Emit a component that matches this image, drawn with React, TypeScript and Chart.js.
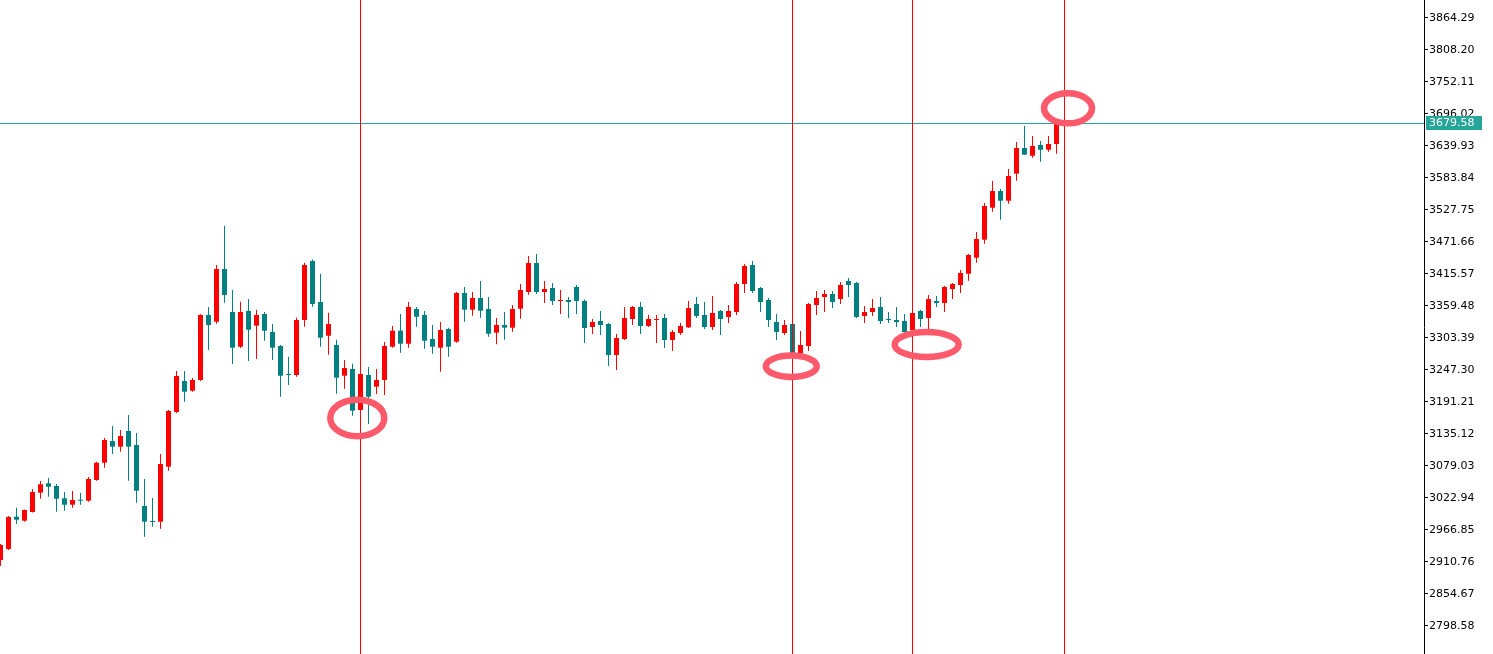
import React, { useEffect, useRef } from "react";
import { Chart, registerables } from "chart.js";

Chart.register(...registerables);

const opens = [
  2914.3, 2933.5, 2990.2, 2983.2, 2998.4, 3032.2, 3048.7, 3044.0, 3022.4, 3011.2,
  3020.0, 3018.2, 3054.5, 3084.8, 3122.8, 3112.9, 3140.4, 3115.8, 3008.9, 2982.6,
  2981.4, 3077.8, 3173.7, 3228.0, 3211.0, 3229.8, 3343.7, 3332.0, 3424.3, 3349.0,
  3288.1, 3350.7, 3325.0, 3345.5, 3313.9, 3289.4, 3240.3, 3238.5, 3334.9, 3438.4,
  3366.5, 3307.4, 3291.1, 3237.3, 3249.0, 3177.2, 3238.5, 3218.0, 3229.8, 3288.1,
  3316.2, 3293.4, 3354.2, 3343.7, 3301.6, 3286.4, 3319.2, 3296.9, 3382.3, 3353.0,
  3373.5, 3354.2, 3312.7, 3326.2, 3321.5, 3354.7, 3384.0, 3434.8, 3384.0, 3391.0,
  3368.2, 3370.0, 3392.8, 3368.2, 3322.7, 3333.2, 3327.9, 3273.6, 3301.6, 3336.7,
  3357.7, 3324.4, 3334.9, 3338.4, 3299.9, 3312.2, 3322.1, 3363.0, 3343.7, 3322.7,
  3350.7, 3340.2, 3349.0, 3398.0, 3431.4, 3391.0, 3370.0, 3331.4, 3312.2, 3327.9,
  3277.1, 3289.4, 3361.2, 3375.3, 3380.5, 3371.7, 3403.3, 3399.8, 3341.9, 3349.0,
  3357.7, 3336.7, 3334.9, 3333.2, 3317.4, 3350.7, 3338.4, 3368.2, 3364.7, 3389.3,
  3396.3, 3416.1, 3444.1, 3475.7, 3531.8, 3561.0, 3544.0, 3591.4, 3636.4, 3622.9,
  3641.7, 3633.4, 3643.4,
];
const highs = [
  2942.4, 2991.4, 3005.9, 3003.0, 3038.7, 3052.7, 3058.0, 3047.5, 3033.5, 3035.2,
  3031.7, 3059.7, 3086.6, 3128.1, 3149.1, 3142.1, 3168.4, 3136.9, 3056.2, 3022.9,
  3100.1, 3177.2, 3245.5, 3245.5, 3233.3, 3345.0, 3357.7, 3431.4, 3500.2, 3387.5,
  3367.0, 3371.7, 3353.0, 3349.0, 3327.9, 3291.1, 3270.6, 3339.0, 3435.4, 3441.0,
  3416.1, 3347.7, 3300.4, 3264.8, 3258.3, 3250.8, 3252.5, 3249.0, 3296.4, 3324.4,
  3345.5, 3366.5, 3357.7, 3350.7, 3326.2, 3331.4, 3321.5, 3384.0, 3392.8, 3384.0,
  3403.3, 3375.3, 3338.4, 3349.0, 3361.2, 3398.0, 3447.1, 3450.6, 3403.3, 3399.8,
  3387.5, 3375.3, 3396.3, 3371.0, 3336.7, 3350.7, 3329.7, 3310.4, 3357.7, 3359.5,
  3366.5, 3343.7, 3343.7, 3345.5, 3317.4, 3329.7, 3368.2, 3375.3, 3366.5, 3377.0,
  3352.5, 3361.2, 3401.6, 3433.1, 3438.4, 3392.8, 3373.5, 3345.5, 3334.9, 3334.9,
  3315.7, 3364.7, 3385.8, 3387.5, 3385.8, 3401.6, 3408.6, 3401.6, 3359.5, 3371.7,
  3375.3, 3349.0, 3357.7, 3345.5, 3354.2, 3352.5, 3378.8, 3377.0, 3394.5, 3399.8,
  3422.6, 3450.6, 3489.2, 3540.0, 3578.6, 3564.6, 3599.6, 3646.9, 3675.0, 3657.5,
  3648.7, 3657.5, 3684.0,
];
const lows = [
  2903.8, 2931.8, 2977.4, 2981.4, 2997.5, 3021.7, 3025.2, 2998.9, 3000.7, 3005.9,
  3011.2, 3016.5, 3053.3, 3076.1, 3100.1, 3104.1, 3053.3, 3014.7, 2955.1, 2972.6,
  2969.1, 3070.8, 3171.9, 3191.7, 3209.3, 3228.0, 3282.4, 3328.5, 3365.3, 3257.8,
  3285.9, 3263.1, 3266.6, 3298.7, 3264.8, 3200.4, 3221.0, 3235.5, 3323.2, 3358.3,
  3288.1, 3274.1, 3205.8, 3214.5, 3167.2, 3166.6, 3152.6, 3205.2, 3203.5, 3286.4,
  3277.6, 3286.4, 3323.2, 3284.6, 3275.9, 3244.3, 3270.6, 3295.2, 3332.0, 3342.5,
  3339.0, 3305.7, 3292.3, 3300.4, 3314.4, 3337.2, 3379.3, 3380.5, 3364.7, 3361.2,
  3345.5, 3338.4, 3345.5, 3294.6, 3310.4, 3308.6, 3254.3, 3247.3, 3299.9, 3326.2,
  3310.4, 3322.7, 3294.6, 3285.9, 3280.6, 3308.6, 3320.9, 3338.4, 3319.2, 3317.4,
  3308.6, 3329.7, 3343.7, 3382.3, 3382.3, 3349.0, 3322.7, 3299.9, 3308.6, 3270.1,
  3270.1, 3280.6, 3343.7, 3349.0, 3356.0, 3363.0, 3375.3, 3338.4, 3329.7, 3341.9,
  3327.9, 3329.7, 3322.7, 3312.2, 3310.4, 3322.7, 3317.4, 3357.7, 3349.0, 3371.7,
  3382.3, 3403.8, 3435.4, 3468.7, 3524.8, 3510.7, 3538.8, 3579.1, 3624.2, 3619.4,
  3612.4, 3629.9, 3626.4,
];
const closes = [
  2940.6, 2989.6, 2984.9, 3001.9, 3033.5, 3047.0, 3042.7, 3021.7, 3011.2, 3019.4,
  3018.2, 3056.2, 3084.8, 3124.6, 3112.9, 3131.6, 3112.9, 3035.7, 2981.4, 2980.9,
  3082.5, 3175.4, 3236.8, 3209.3, 3229.8, 3343.7, 3326.2, 3424.3, 3378.8, 3286.4,
  3349.0, 3317.9, 3343.7, 3316.2, 3286.4, 3237.3, 3238.5, 3334.9, 3431.4, 3363.0,
  3303.9, 3327.9, 3233.8, 3250.8, 3176.0, 3240.3, 3200.4, 3229.8, 3289.4, 3316.2,
  3293.4, 3357.7, 3340.7, 3298.7, 3288.1, 3317.4, 3288.1, 3382.3, 3353.0, 3373.5,
  3351.2, 3310.9, 3326.2, 3321.5, 3354.2, 3387.5, 3434.8, 3384.0, 3389.3, 3368.2,
  3370.0, 3366.5, 3368.2, 3320.9, 3331.4, 3326.2, 3273.6, 3303.4, 3338.4, 3357.7,
  3324.4, 3336.7, 3336.7, 3299.9, 3313.9, 3324.4, 3356.0, 3341.9, 3322.7, 3347.2,
  3336.7, 3350.7, 3398.0, 3429.6, 3385.8, 3366.5, 3334.9, 3313.9, 3326.2, 3277.1,
  3291.1, 3363.0, 3373.5, 3380.5, 3366.5, 3396.3, 3396.3, 3340.2, 3349.0, 3356.0,
  3333.2, 3334.9, 3331.4, 3313.9, 3347.2, 3336.7, 3371.7, 3364.7, 3392.8, 3398.0,
  3417.3, 3448.9, 3476.9, 3534.8, 3561.0, 3544.0, 3587.3, 3636.4, 3624.7, 3639.9,
  3633.4, 3643.4, 3679.58,
];

const priceTicks = [
  2798.58, 2854.67, 2910.76, 2966.85, 3022.94, 3079.03, 3135.12, 3191.21, 3247.3,
  3303.39, 3359.48, 3415.57, 3471.66, 3527.75, 3583.84, 3639.93, 3696.02, 3752.11,
  3808.2, 3864.29,
];

const currentPrice = 3679.58;
const markerBars = [45, 99, 114, 133];
// ring annotations: bar index, price
const ringIdx = [44.6, 98.85, 115.77, 133.44];
const ringPrice = [3163.2, 3253.8, 3292.0, 3706.0];
const ringRx = [27, 25.5, 32, 24];
const ringRy = [18.3, 10.7, 12.5, 15];

const UP = "#ff0000";
const DOWN = "#008080";
const PRICE_COL = "#26a69a";
const RING_COL = "#ff5a6b";

export default function App() {
  const ref = useRef<HTMLCanvasElement | null>(null);

  useEffect(() => {
    if (!ref.current) return;
    Chart.defaults.font.family = "'DejaVu Sans', sans-serif";
    const idx = opens.map((_, i) => i);
    const colors = idx.map((i) => (closes[i] > opens[i] ? UP : DOWN));

    const overlay = {
      id: "overlay",
      afterDatasetsDraw(chart: any) {
        const { ctx, chartArea, scales } = chart;
        const xs = scales.x;
        const ys = scales.y;
        ctx.save();
        const py = ys.getPixelForValue(currentPrice);
        ctx.fillStyle = PRICE_COL;
        ctx.fillRect(chartArea.left, Math.floor(py), chartArea.right - chartArea.left, 1);
        ctx.fillStyle = "#ff0000";
        markerBars.forEach((b) => {
          const px = xs.getPixelForValue(b);
          ctx.fillRect(Math.floor(px), chartArea.top, 1, chartArea.bottom - chartArea.top);
        });
        ctx.restore();
      },
      afterDraw(chart: any) {
        const { ctx, chartArea, scales } = chart;
        const xs = scales.x;
        const ys = scales.y;
        ctx.save();
        ctx.strokeStyle = RING_COL;
        ctx.lineWidth = 6.5;
        ringIdx.forEach((r, i) => {
          const cx = xs.getPixelForValue(r);
          const cy = ys.getPixelForValue(ringPrice[i]);
          ctx.beginPath();
          ctx.ellipse(cx, cy, ringRx[i], ringRy[i], 0, 0, Math.PI * 2);
          ctx.stroke();
        });
        const py = ys.getPixelForValue(currentPrice);
        const bx = chartArea.right + 2;
        ctx.fillStyle = PRICE_COL;
        ctx.fillRect(bx, Math.round(py) - 7, 56, 14);
        ctx.fillStyle = "#ffffff";
        ctx.font = "11px 'DejaVu Sans', sans-serif";
        ctx.textBaseline = "middle";
        ctx.textAlign = "left";
        ctx.fillText(currentPrice.toFixed(2), bx + 3, Math.round(py) + 0.5);
        ctx.restore();
      },
    };

    const chart = new Chart(ref.current, {
      type: "bar",
      data: {
        datasets: [
          {
            label: "wick",
            data: idx.map((i) => ({ x: i, y: [lows[i], highs[i]] })) as any,
            backgroundColor: colors,
            borderWidth: 0,
            grouped: false,
            maxBarThickness: 1,
            order: 2,
          } as any,
          {
            label: "body",
            data: idx.map((i) => ({ x: i, y: [opens[i], closes[i]] })) as any,
            backgroundColor: colors,
            borderWidth: 0,
            grouped: false,
            maxBarThickness: 5,
            minBarLength: 1,
            order: 1,
          } as any,
        ],
      },
      options: {
        animation: false,
        responsive: false,
        maintainAspectRatio: false,
        layout: { padding: 0 },
        plugins: {
          legend: { display: false },
          tooltip: { enabled: false },
          title: { display: false },
        },
        scales: {
          x: {
            type: "linear",
            display: false,
            offset: false,
            min: -0.0625,
            max: 177.9375,
          },
          y: {
            type: "linear",
            position: "right",
            min: 2749.5,
            max: 3895.84,
            afterBuildTicks: (scale: any) => {
              scale.ticks = priceTicks.map((v) => ({ value: v }));
            },
            afterFit: (scale: any) => {
              scale.width = 69;
              scale.paddingTop = 0;
              scale.paddingBottom = 0;
            },
            grid: {
              drawOnChartArea: false,
              drawTicks: true,
              tickLength: 4,
              color: "#000000",
            },
            border: { display: true, color: "#000000", width: 1 },
            ticks: {
              padding: 1,
              color: "#000000",
              font: { size: 11, family: "'DejaVu Sans', sans-serif" },
              callback: (v: any) => Number(v).toFixed(2),
            },
          },
        },
      },
      plugins: [overlay],
    });
    return () => chart.destroy();
  }, []);

  return (
    <div style={{ position: "absolute", left: 0, top: 0, width: 1493, height: 654, background: "#fff" }}>
      <canvas ref={ref} width={1493} height={654} style={{ display: "block", width: 1493, height: 654 }} />
    </div>
  );
}
